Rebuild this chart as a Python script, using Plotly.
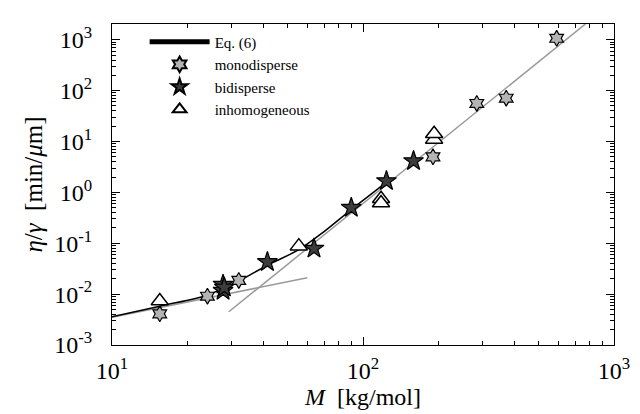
import plotly.graph_objects as go

# ---- data ----
mono_M = [15.5, 24, 32, 190, 284, 372, 591]
mono_y = [0.0041, 0.0091, 0.0186, 5.0, 56, 71, 1070]

bi_M = [27.7, 27.7, 28.0, 41.6, 63.8, 89.8, 124, 159]
bi_y = [0.0154, 0.0117, 0.0135, 0.043, 0.0787, 0.50, 1.67, 4.13]

inh_M = [15.5, 55.5, 118, 118, 192, 192]
inh_y = [0.0073, 0.0877, 0.75, 0.62, 11.0, 14.2]

# Eq. (6) curve
eq_M = [10, 15.5, 24, 27.7, 32, 41.6, 55.5, 70, 89.8, 110, 130]
eq_y = [0.0036, 0.0058, 0.0095, 0.0132, 0.018, 0.037, 0.075, 0.17, 0.46, 1.0, 1.9]

# grey asymptotes (end points)
low_M = [10, 60]
low_y = [0.0035, 0.021]
high_M = [29.2, 770]
high_y = [0.0045, 2050]

x_tickvals = [10, 100, 1000]
x_ticktext = ["10<sup>1</sup>", "10<sup>2</sup>", "10<sup>3</sup>"]
y_tickvals = [1e-3, 1e-2, 1e-1, 1, 10, 100, 1000]
y_ticktext = ["10<sup>-3</sup>", "10<sup>-2</sup>", "10<sup>-1</sup>", "10<sup>0</sup>",
              "10<sup>1</sup>", "10<sup>2</sup>", "10<sup>3</sup>"]

FONT = "Liberation Serif"

fig = go.Figure()
fig.add_trace(go.Scatter(x=low_M, y=low_y, mode="lines",
                         line=dict(color="#9a9a9a", width=1.5), showlegend=False))
fig.add_trace(go.Scatter(x=high_M, y=high_y, mode="lines",
                         line=dict(color="#9a9a9a", width=1.5), showlegend=False))
fig.add_trace(go.Scatter(x=eq_M, y=eq_y, mode="lines", name="Eq. (6)",
                         line=dict(color="black", width=1.5, shape="spline")))
fig.add_trace(go.Scatter(x=mono_M, y=mono_y, mode="markers", name="monodisperse",
                         marker=dict(symbol="hexagram", size=12, color="#b4b4b4",
                                     line=dict(color="black", width=1.2))))
fig.add_trace(go.Scatter(x=bi_M, y=bi_y, mode="markers", name="bidisperse",
                         marker=dict(symbol="star", size=15, color="#3c3c3c",
                                     line=dict(color="black", width=1.2))))
fig.add_trace(go.Scatter(x=inh_M, y=inh_y, mode="markers", name="inhomogeneous",
                         marker=dict(symbol="triangle-up", size=15, color="white",
                                     line=dict(color="black", width=1.5))))

axis_common = dict(
    type="log", showline=True, linecolor="black", linewidth=1, mirror="allticks",
    ticks="inside", ticklen=8, tickcolor="black", showgrid=False, zeroline=False,
    tickfont=dict(family=FONT, size=24, color="black"),
    minor=dict(ticks="inside", ticklen=4, tickcolor="black", dtick="D1", showgrid=False),
)

fig.update_xaxes(range=[1, 3], tickvals=x_tickvals, ticktext=x_ticktext,
                 ticklabelstandoff=4,
                 title=dict(text="<i>M</i>  [kg/mol]", font=dict(family=FONT, size=24, color="black"),
                            standoff=0),
                 **axis_common)
fig.update_yaxes(range=[-3, 3.31], tickvals=y_tickvals, ticktext=y_ticktext,
                 ticklabelstandoff=14,
                 title=dict(text="<i>η</i>/<i>γ</i>  [min/<i>μ</i>m]",
                            font=dict(family=FONT, size=25, color="black"), standoff=4),
                 **axis_common)

fig.update_layout(
    width=640, height=414,
    margin=dict(l=104, r=34, t=16, b=77),
    paper_bgcolor="white", plot_bgcolor="white",
    font=dict(family=FONT, color="black"),
    legend=dict(x=0.065, y=0.995, xanchor="left", yanchor="top", bgcolor="rgba(0,0,0,0)",
                font=dict(family=FONT, size=15, color="black"), itemsizing="constant",
                itemwidth=60, tracegroupgap=0),
)

fig.write_html("out.html")
